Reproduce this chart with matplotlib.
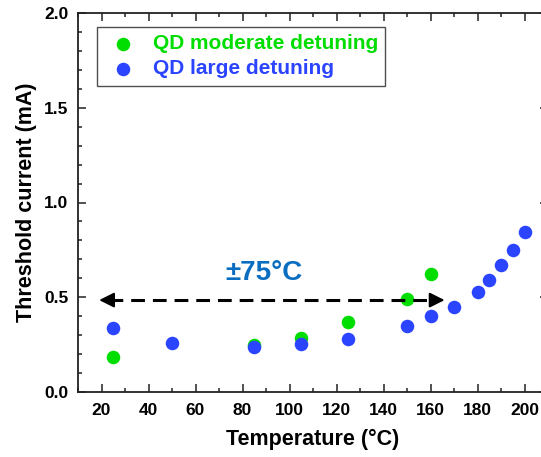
import matplotlib
matplotlib.use("Agg")
import matplotlib.pyplot as plt
from matplotlib.ticker import MultipleLocator, FormatStrFormatter

plt.rcParams['font.family'] = ['Liberation Sans', 'DejaVu Sans']
plt.rcParams['font.weight'] = 'bold'

# Data
temp_moderate = [25, 85, 105, 125, 150, 160]
ith_moderate = [0.186, 0.248, 0.283, 0.371, 0.489, 0.621]

temp_large = [25, 50, 85, 105, 125, 150, 160, 170, 180, 185, 190, 195, 200]
ith_large = [0.34, 0.26, 0.236, 0.255, 0.28, 0.348, 0.40, 0.45, 0.53, 0.59, 0.67, 0.75, 0.846]

x_ticks = [20, 40, 60, 80, 100, 120, 140, 160, 180, 200]

label_moderate = "QD moderate detuning"
label_large = "QD large detuning"
green = "#00DD00"
blue = "#2A44FF"
note_color = "#0A6EC0"

W, H = 541, 457
fig = plt.figure(figsize=(W / 100, H / 100), dpi=100)
ax = fig.add_axes([78 / W, (H - 392) / H, 470 / W, 379 / H])

ax.scatter(temp_moderate, ith_moderate, s=95, color=green, label=label_moderate, zorder=3, linewidths=0)
ax.scatter(temp_large, ith_large, s=95, color=blue, label=label_large, zorder=4, linewidths=0)

ax.set_xlim(10, 210)
ax.set_ylim(0, 2.0)
ax.set_xticks(x_ticks)
ax.xaxis.set_minor_locator(MultipleLocator(10))
ax.yaxis.set_major_locator(MultipleLocator(0.5))
ax.yaxis.set_minor_locator(MultipleLocator(0.1))
ax.yaxis.set_major_formatter(FormatStrFormatter('%.1f'))
ax.tick_params(which='both', direction='in', top=True, right=True, width=1.2, color='#333333')
ax.tick_params(which='major', length=6, labelsize=12.5, pad=8)
ax.tick_params(axis='y', which='major', pad=7)
ax.tick_params(which='minor', length=3)
for lab in ax.get_xticklabels() + ax.get_yticklabels():
    lab.set_fontweight('bold')
for sp in ax.spines.values():
    sp.set_linewidth(1.3)
    sp.set_color('#222222')

ax.set_xlabel("Temperature (°C)", fontsize=15.5, fontweight='bold', labelpad=8)
ax.set_ylabel("Threshold current (mA)", fontsize=15.5, fontweight='bold', labelpad=5)

# Arrow annotation
y_arrow = 0.485
x0, x1 = 19, 166
ax.plot([x0 + 4, x1 - 4], [y_arrow, y_arrow], color='black', lw=2.2, dashes=(4.5, 2.6), zorder=5)
head = dict(arrowstyle='-|>,head_length=0.9,head_width=0.45', color='black', lw=1.5, shrinkA=0, shrinkB=0)
ax.annotate('', xy=(x0, y_arrow), xytext=(x0 + 6, y_arrow), arrowprops=head, zorder=5)
ax.annotate('', xy=(x1, y_arrow), xytext=(x1 - 6, y_arrow), arrowprops=head, zorder=5)
ax.text(89, 0.63, "±75°C", color=note_color, fontsize=20, fontweight='bold', ha='center', va='center')

leg = ax.legend(loc='upper left', bbox_to_anchor=(96.7 / W, 1 - 26.7 / H), bbox_transform=fig.transFigure,
                borderaxespad=0, fancybox=False, frameon=True, edgecolor='#222222',
                handlelength=1.85, handletextpad=0.5, labelspacing=0.3, borderpad=0.35,
                prop={'weight': 'bold', 'size': 15})
leg.get_frame().set_linewidth(1.0)
for t, c in zip(leg.get_texts(), [green, blue]):
    t.set_color(c)

fig.savefig("out.png", dpi=100)
